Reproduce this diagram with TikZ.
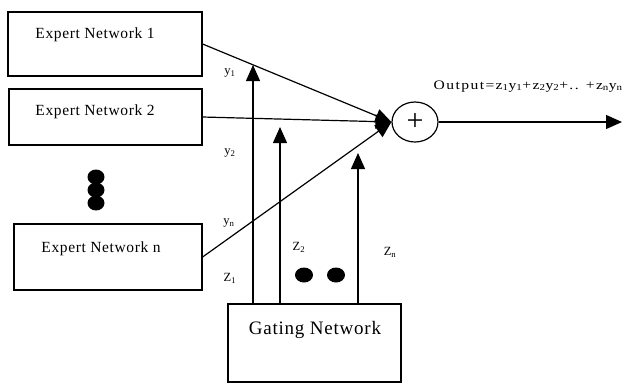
\documentclass[tikz,border=0pt]{standalone}
\usepackage{fontspec}
\setmainfont{Liberation Serif}
\newfontfamily\spacedserif[LetterSpace=4]{Liberation Serif}
\newfontfamily\wideserif[FakeStretch=1.2,LetterSpace=11]{Liberation Serif}
\usetikzlibrary{arrows.meta,shapes.geometric}

\begin{document}
\begin{tikzpicture}[x=1pt,y=-1pt,
  line width=1.2pt,
  box/.style={draw,line width=1.2pt,inner sep=0pt,fill=white},
  boxtext/.style={inner sep=0pt,font=\spacedserif\fontsize{15.5}{18}\selectfont},
  gatetext/.style={inner sep=0pt,font=\spacedserif\fontsize{19}{23}\selectfont},
  lbl/.style={inner sep=0pt,font=\fontsize{12.5}{14}\selectfont},
  outlbl/.style={inner sep=0pt,anchor=base west,font=\wideserif\fontsize{13}{15}\selectfont},
  dot/.style={ellipse,fill=black,inner sep=0pt,minimum width=17pt,minimum height=15pt},
  arr/.style={-{Triangle[length=16pt,width=14pt]},line width=1.2pt},
  sumnode/.style={ellipse,draw,line width=1.2pt,inner sep=0pt,minimum width=46pt,minimum height=40pt,font=\fontsize{30}{32}\selectfont}
]
\useasboundingbox (0,0) rectangle (623,384);

% expert networks and gating network
\node[box,minimum width=194pt,minimum height=64pt] (en1) at (105,44) {};
\node[box,minimum width=193pt,minimum height=56pt] (en2) at (105.5,117) {};
\node[box,minimum width=188pt,minimum height=66pt] (enn) at (108,257) {};
\node[box,minimum width=173pt,minimum height=78pt] (gate) at (314.5,343) {};

\node[boxtext] (en1t) at (95,35) {Expert Network 1};
\node[boxtext] (en2t) at (95,112) {Expert Network 2};
\node[boxtext] (ennt) at (101,249) {Expert Network n};
\node[gatetext] (gatet) at (315,330) {Gating Network};

% vertical ellipsis between the experts
\node[dot] (v1) at (96,177) {};
\node[dot] (v2) at (96,190) {};
\node[dot] (v3) at (96,203) {};

% summing junction
\node[sumnode] (sum) at (415,122) {+};
\coordinate (out) at (622,122);

% gate output tips
\coordinate (t1) at (253,65);
\coordinate (t2) at (280,127);
\coordinate (tn) at (358,153);

% gating signals
\draw[arr] (gate.north -| t1) -- (t1);
\draw[arr] (gate.north -| t2) -- (t2);
\draw[arr] (gate.north -| tn) -- (tn);

% expert outputs into the sum
\draw[arr] (en1.east) -- (sum.west);
\draw[arr] (en2.east) -- (sum.west);
\draw[arr] (enn.east) -- (sum.west);

% combined output
\draw[arr] (sum.east) -- (out);

% horizontal ellipsis between gating signals
\node[dot,minimum width=18pt,minimum height=15pt] (h1) at (304,275) {};
\node[dot,minimum width=18pt,minimum height=15pt] (h2) at (336,275) {};

% labels
\node[lbl] (ly1) at (230,73) {y\textsubscript{1}};
\node[lbl] (ly2) at (230,153) {y\textsubscript{2}};
\node[lbl] (lyn) at (229,223) {y\textsubscript{n}};
\node[lbl] (lz1) at (230,278) {Z\textsubscript{1}};
\node[lbl] (lz2) at (299,247) {Z\textsubscript{2}};
\node[lbl] (lzn) at (390,252) {Z\textsubscript{n}};
\node[outlbl] (outt) at (433,89) {Output=z\textsubscript{1}y\textsubscript{1}+z\textsubscript{2}y\textsubscript{2}+.. +z\textsubscript{n}y\textsubscript{n}};
\end{tikzpicture}
\end{document}
